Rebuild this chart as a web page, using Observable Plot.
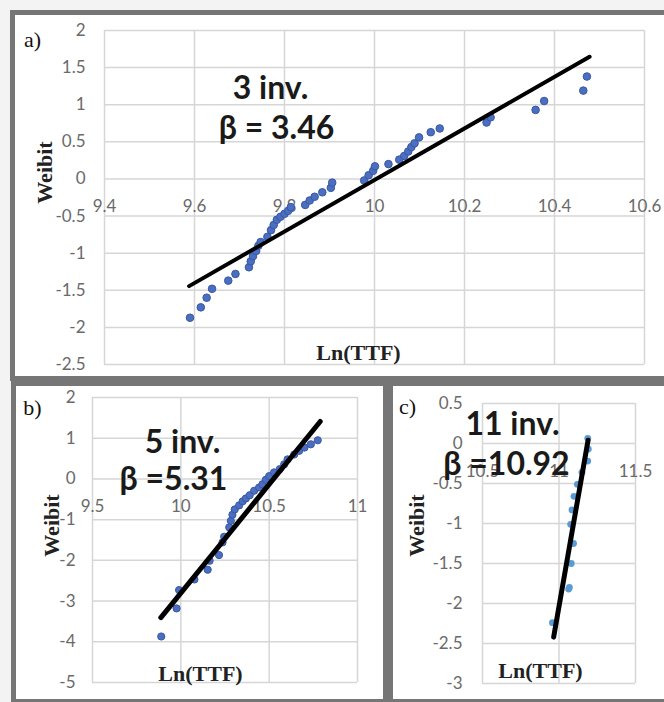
<!DOCTYPE html>
<html><head><meta charset="utf-8">
<script src="https://cdn.jsdelivr.net/npm/d3@7"></script>
<script src="https://cdn.jsdelivr.net/npm/@observablehq/plot@0.6"></script>
<style>
body{margin:0;background:#f3f3f3;}
#page{position:relative;width:664px;height:702px;overflow:hidden;background:#f3f3f3;}
.panel{position:absolute;box-sizing:border-box;background:#fff;border:5px solid #767676;}
.pw{position:absolute;}
.pw svg{display:block;}
</style></head><body>
<div id="page">
  <div class="panel" style="left:10px;top:10px;width:670px;height:371px;"></div>
  <div class="panel" style="left:11px;top:381px;width:377px;height:323px;"></div>
  <div class="panel" style="left:388px;top:381px;width:290px;height:323px;"></div>
  <div class="pw" id="pa" style="left:15px;top:15px;"></div>
  <div class="pw" id="pb" style="left:16px;top:386px;"></div>
  <div class="pw" id="pc" style="left:393px;top:386px;"></div>
</div>
<script>
// ---- Panel a: 3 inv.
const aLnTTF = [9.590, 9.614, 9.627, 9.639, 9.675, 9.691, 9.721, 9.725, 9.730, 9.737, 9.742, 9.747, 9.762, 9.770, 9.776, 9.783, 9.791, 9.800, 9.808, 9.814, 9.846, 9.856, 9.867, 9.884, 9.903, 9.906, 9.977, 9.987, 9.997, 10.001, 10.031, 10.055, 10.066, 10.075, 10.082, 10.089, 10.099, 10.125, 10.145, 10.249, 10.258, 10.358, 10.377, 10.464, 10.472];
const aWeibit = [-1.87, -1.73, -1.60, -1.48, -1.37, -1.28, -1.19, -1.11, -1.04, -0.97, -0.90, -0.85, -0.78, -0.69, -0.62, -0.55, -0.51, -0.47, -0.43, -0.38, -0.35, -0.29, -0.24, -0.18, -0.12, -0.05, -0.02, 0.05, 0.11, 0.17, 0.20, 0.26, 0.31, 0.37, 0.43, 0.48, 0.56, 0.63, 0.68, 0.76, 0.83, 0.93, 1.05, 1.19, 1.38];
const aFitX = [9.588, 10.478];
const aFitY = [-1.444, 1.646];
const aXTicks = [9.4, 9.6, 9.8, 10, 10.2, 10.4, 10.6];
const aYTicks = [2, 1.5, 1, 0.5, 0, -0.5, -1, -1.5, -2, -2.5];

// ---- Panel b: 5 inv.
const bLnTTF = [9.889, 9.976, 9.990, 10.077, 10.152, 10.163, 10.216, 10.236, 10.245, 10.274, 10.283, 10.292, 10.305, 10.330, 10.350, 10.368, 10.390, 10.415, 10.443, 10.462, 10.481, 10.500, 10.528, 10.560, 10.585, 10.604, 10.642, 10.670, 10.700, 10.736, 10.775];
const bWeibit = [-3.87, -3.18, -2.73, -2.47, -2.23, -2.01, -1.87, -1.56, -1.42, -1.19, -1.03, -0.88, -0.75, -0.65, -0.55, -0.48, -0.40, -0.29, -0.21, -0.13, -0.02, 0.07, 0.16, 0.24, 0.36, 0.48, 0.60, 0.69, 0.77, 0.85, 0.95];
const bFitX = [9.887, 10.789];
const bFitY = [-3.405, 1.41];
const bXTicks = [9.5, 10, 10.5, 11];
const bYTicks = [2, 1, 0, -1, -2, -3, -4, -5];

// ---- Panel c: 11 inv.
const cLnTTF = [10.957, 11.063, 11.068, 11.080, 11.095, 11.076, 11.085, 11.098, 11.120, 11.150, 11.188, 11.192, 11.188];
const cWeibit = [-2.24, -1.82, -1.80, -1.50, -1.25, -1.01, -0.83, -0.66, -0.51, -0.36, -0.22, -0.07, 0.065];
const cFitX = [10.965, 11.19];
const cFitY = [-2.42, 0.04];
const cXTicks = [10.5, 11, 11.5];
const cYTicks = [0.5, 0, -0.5, -1, -1.5, -2, -2.5, -3];

const grid = {stroke: "#d6d6d6", strokeOpacity: 1, strokeWidth: 1.5};
const tickStyle = {fontSize: 17, fill: "#6a6a6a"};
const serif = "'Liberation Serif', 'Times New Roman', serif";

function panel(o) {
  const pts = o.xs.map((x, i) => ({x, y: o.ys[i]}));
  const fit = o.fitX.map((x, i) => ({x, y: o.fitY[i]}));
  const t = (txt, dx, dy, extra) => Plot.text([txt], {text: d => d, frameAnchor: "top-left", dx, dy, textAnchor: "middle", ...extra});
  return Plot.plot({
    width: o.w, height: o.h,
    marginLeft: o.ml, marginRight: o.mr, marginTop: o.mt, marginBottom: o.mb,
    style: {background: "transparent", overflow: "visible", fontFamily: "Lato, 'Open Sans', sans-serif"},
    x: {domain: [o.xTicks[0], o.xTicks[o.xTicks.length - 1]], axis: null},
    y: {domain: [o.yTicks[o.yTicks.length - 1], o.yTicks[0]]},
    marks: [
      Plot.gridX(o.xTicks, grid),
      Plot.gridY(o.yTicks, grid),
      Plot.axisY(o.yTicks, {tickSize: 0, tickPadding: o.pad, tickFormat: d => String(d), label: null, ...tickStyle}),
      Plot.text(o.xTicks, {x: d => d, y: () => 0, dy: 28, text: d => String(d), ...tickStyle}),
      Plot.dot(pts, {x: "x", y: "y", r: o.r, fill: o.fill, stroke: o.stroke, strokeWidth: 1}),
      Plot.line(fit, {x: "x", y: "y", stroke: "#000", strokeWidth: o.lw}),
      t(o.tag, o.tagPos[0], o.tagPos[1], {fontFamily: serif, fontSize: 22, fill: "#111"}),
      t("Weibit", o.wPos[0], o.wPos[1], {fontFamily: serif, fontSize: 22, fontWeight: "bold", fill: "#222", rotate: -90}),
      t("Ln(TTF)", o.lPos[0], o.lPos[1], {fontFamily: serif, fontSize: 22, fontWeight: "bold", fill: "#222"}),
      t(o.ann1, o.a1Pos[0], o.a1Pos[1], {fontSize: 32, fontWeight: "bold", fill: "#1a1a1a"}),
      t(o.ann2, o.a2Pos[0], o.a2Pos[1], {fontSize: 32, fontWeight: "bold", fill: "#1a1a1a"})
    ]
  });
}

document.getElementById("pa").append(panel({
  xs: aLnTTF, ys: aWeibit, fitX: aFitX, fitY: aFitY, xTicks: aXTicks, yTicks: aYTicks,
  w: 649, h: 361, ml: 89, mr: 20, mt: 15, mb: 12, pad: 19,
  r: 3.8, fill: "#4a6fc1", stroke: "#3a57a3", lw: 4,
  tag: "a)", tagPos: [-72, 1], wPos: [-68, 142], lPos: [254, 314],
  ann1: "3 inv.", a1Pos: [166, 46], ann2: "β = 3.46", a2Pos: [172, 86]
}));
document.getElementById("pb").append(panel({
  xs: bLnTTF, ys: bWeibit, fitX: bFitX, fitY: bFitY, xTicks: bXTicks, yTicks: bYTicks,
  w: 367, h: 313, ml: 76, mr: 26, mt: 11, mb: 17, pad: 17,
  r: 3.6, fill: "#4a6fc1", stroke: "#3a57a3", lw: 5,
  tag: "b)", tagPos: [-60, 2], wPos: [-49, 128], lPos: [108, 268],
  ann1: "5 inv.", a1Pos: [90, 33], ann2: "β =5.31", a2Pos: [81, 70]
}));
document.getElementById("pc").append(panel({
  xs: cLnTTF, ys: cWeibit, fitX: cFitX, fitY: cFitY, xTicks: cXTicks, yTicks: cYTicks,
  w: 271, h: 313, ml: 89, mr: 29, mt: 17, mb: 16, pad: 20,
  r: 3.4, fill: "#5b9bd5", stroke: "none", lw: 5,
  tag: "c)", tagPos: [-75, -5], wPos: [-74, 122], lPos: [58, 259],
  ann1: "11 inv.", a1Pos: [30, 9], ann2: "β =10.92", a2Pos: [24, 49]
}));
</script>
</body></html>
